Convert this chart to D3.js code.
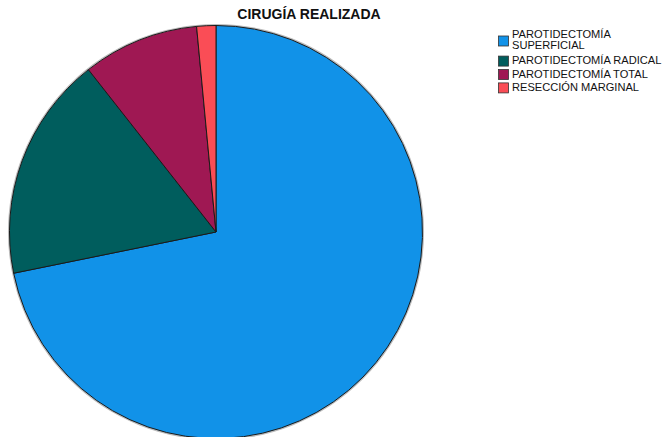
<!DOCTYPE html>
<html>
<head>
<meta charset="utf-8">
<script src="https://cdn.jsdelivr.net/npm/d3@7"></script>
<style>
  html, body { margin: 0; padding: 0; background: #fff; }
  svg { display: block; font-family: "Liberation Sans", Arial, sans-serif; }
</style>
</head>
<body>
<svg id="chart" width="669" height="437"></svg>
<script>
// Type of surgery performed (share of cases, %)
const categories = [
  "PAROTIDECTOMÍA SUPERFICIAL",
  "PAROTIDECTOMÍA RADICAL",
  "PAROTIDECTOMÍA TOTAL",
  "RESECCIÓN MARGINAL"
];
const values = [71.8, 17.6, 9.1, 1.5];
const legendLines = [
  ["PAROTIDECTOMÍA", "SUPERFICIAL"],
  ["PAROTIDECTOMÍA RADICAL"],
  ["PAROTIDECTOMÍA TOTAL"],
  ["RESECCIÓN MARGINAL"]
];
const colors = ["#1192e8", "#005d5d", "#9f1853", "#fa4d56"];
const title = "CIRUGÍA REALIZADA";

const svg = d3.select("#chart");

// Title
svg.append("text")
  .attr("x", 309)
  .attr("y", 19)
  .attr("text-anchor", "middle")
  .attr("font-size", 14)
  .attr("font-weight", "bold")
  .attr("fill", "#111")
  .text(title);

// Pie
const cx = 216, cy = 232, radius = 206.5;
const color = d3.scaleOrdinal().domain(categories).range(colors);
const pie = d3.pie().sort(null).value(d => d.value);
const arc = d3.arc().innerRadius(0).outerRadius(radius);
const data = categories.map((c, i) => ({ category: c, value: values[i] }));

const g = svg.append("g").attr("transform", `translate(${cx},${cy})`);

// soft grey halo around the rim
g.append("circle")
  .attr("r", radius + 0.8)
  .attr("fill", "none")
  .attr("stroke", "#bbb")
  .attr("stroke-width", 1.5);

g.selectAll("path.slice")
  .data(pie(data))
  .join("path")
  .attr("class", "slice")
  .attr("d", arc)
  .attr("fill", d => color(d.data.category))
  .attr("stroke", "#1a1a1a")
  .attr("stroke-width", 1)
  .attr("stroke-linejoin", "round");

// Legend
const legend = svg.append("g").attr("transform", "translate(498,0)");
const lineH = 11.6, rowH = 13.4;
let rowTop = 27.4;
legendLines.forEach((lines, i) => {
  const cellH = rowH * lines.length;
  const baseline = rowTop + 10.1;
  const swatch = 10;
  legend.append("rect")
    .attr("x", 0.5)
    .attr("y", rowTop + cellH / 2 - swatch / 2 + 0.2)
    .attr("width", swatch)
    .attr("height", swatch)
    .attr("fill", color(categories[i]))
    .attr("stroke", "#333")
    .attr("stroke-width", 0.8);
  const t = legend.append("text")
    .attr("x", 14)
    .attr("y", baseline)
    .attr("font-size", 11.1)
    .attr("fill", "#111");
  lines.forEach((ln, j) => {
    t.append("tspan")
      .attr("x", 14)
      .attr("y", baseline + j * lineH)
      .text(ln);
  });
  rowTop += cellH;
});
</script>
</body>
</html>
